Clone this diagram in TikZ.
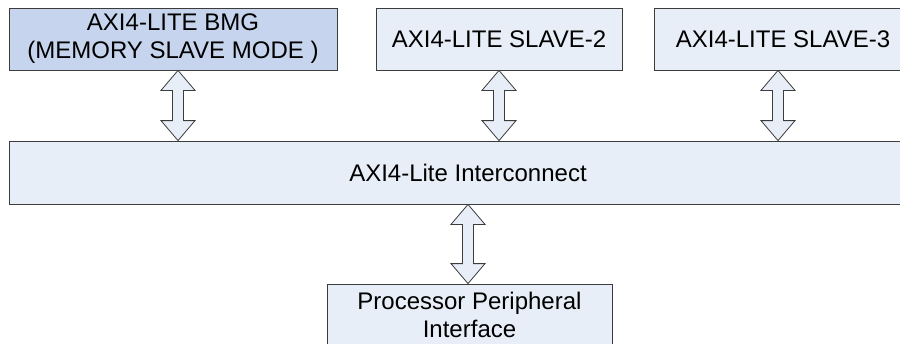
\documentclass[tikz,border=0pt]{standalone}
\usepackage{fontspec}
\setmainfont{Liberation Sans}
\usetikzlibrary{calc}
\definecolor{boxblue}{HTML}{E8EEF7}
\definecolor{bmgblue}{HTML}{C6D5ED}
\definecolor{edgegray}{HTML}{3C3C3C}

\newcommand{\busarrow}[3]{%
  \draw[bus_arrow] let \p1=(#2.south), \p2=(#3.north) in
    ({#1pt},\y1) -- ({#1pt+17pt},\y1-20pt) -- ({#1pt+5.5pt},\y1-20pt)
    -- ({#1pt+5.5pt},\y2+20pt) -- ({#1pt+17pt},\y2+20pt) -- ({#1pt},\y2)
    -- ({#1pt-17pt},\y2+20pt) -- ({#1pt-5.5pt},\y2+20pt)
    -- ({#1pt-5.5pt},\y1-20pt) -- ({#1pt-17pt},\y1-20pt) -- cycle;}

\begin{document}
\begin{tikzpicture}
    [
        x=1pt, y=-1pt,
        box_node/.style={rectangle, draw=edgegray, fill=boxblue, line width=0.8pt, minimum height=62pt, inner sep=0pt, align=center, font=\fontsize{24}{28}\selectfont},
        bmg_node/.style={box_node, fill=bmgblue},
        bus_arrow/.style={draw=edgegray, fill=boxblue, line width=0.8pt, line join=miter},
    ]
  \useasboundingbox (0,0) rectangle (900,343);
  \clip (0,0) rectangle (900,343);
  \fill[white] (0,0) rectangle (900,343);

  \node[bmg_node, minimum width=328pt] (bmg) at (173,39) {AXI4-LITE BMG\\(MEMORY SLAVE MODE )};
  \node[box_node, minimum width=246pt] (slave2) at (499,39) {AXI4-LITE SLAVE-2};
  \node[box_node, minimum width=258pt] (slave3) at (783,39) {AXI4-LITE SLAVE-3};
  \node[box_node, minimum width=918pt, minimum height=63pt] (ic) at (468,172.5) {AXI4-Lite Interconnect};
  \node[box_node, minimum width=285pt] (ppi) at (469.5,315) {Processor Peripheral\\Interface};

  \busarrow{178}{bmg}{ic}
  \busarrow{499}{slave2}{ic}
  \busarrow{778}{slave3}{ic}
  \busarrow{468}{ic}{ppi}
\end{tikzpicture}
\end{document}
